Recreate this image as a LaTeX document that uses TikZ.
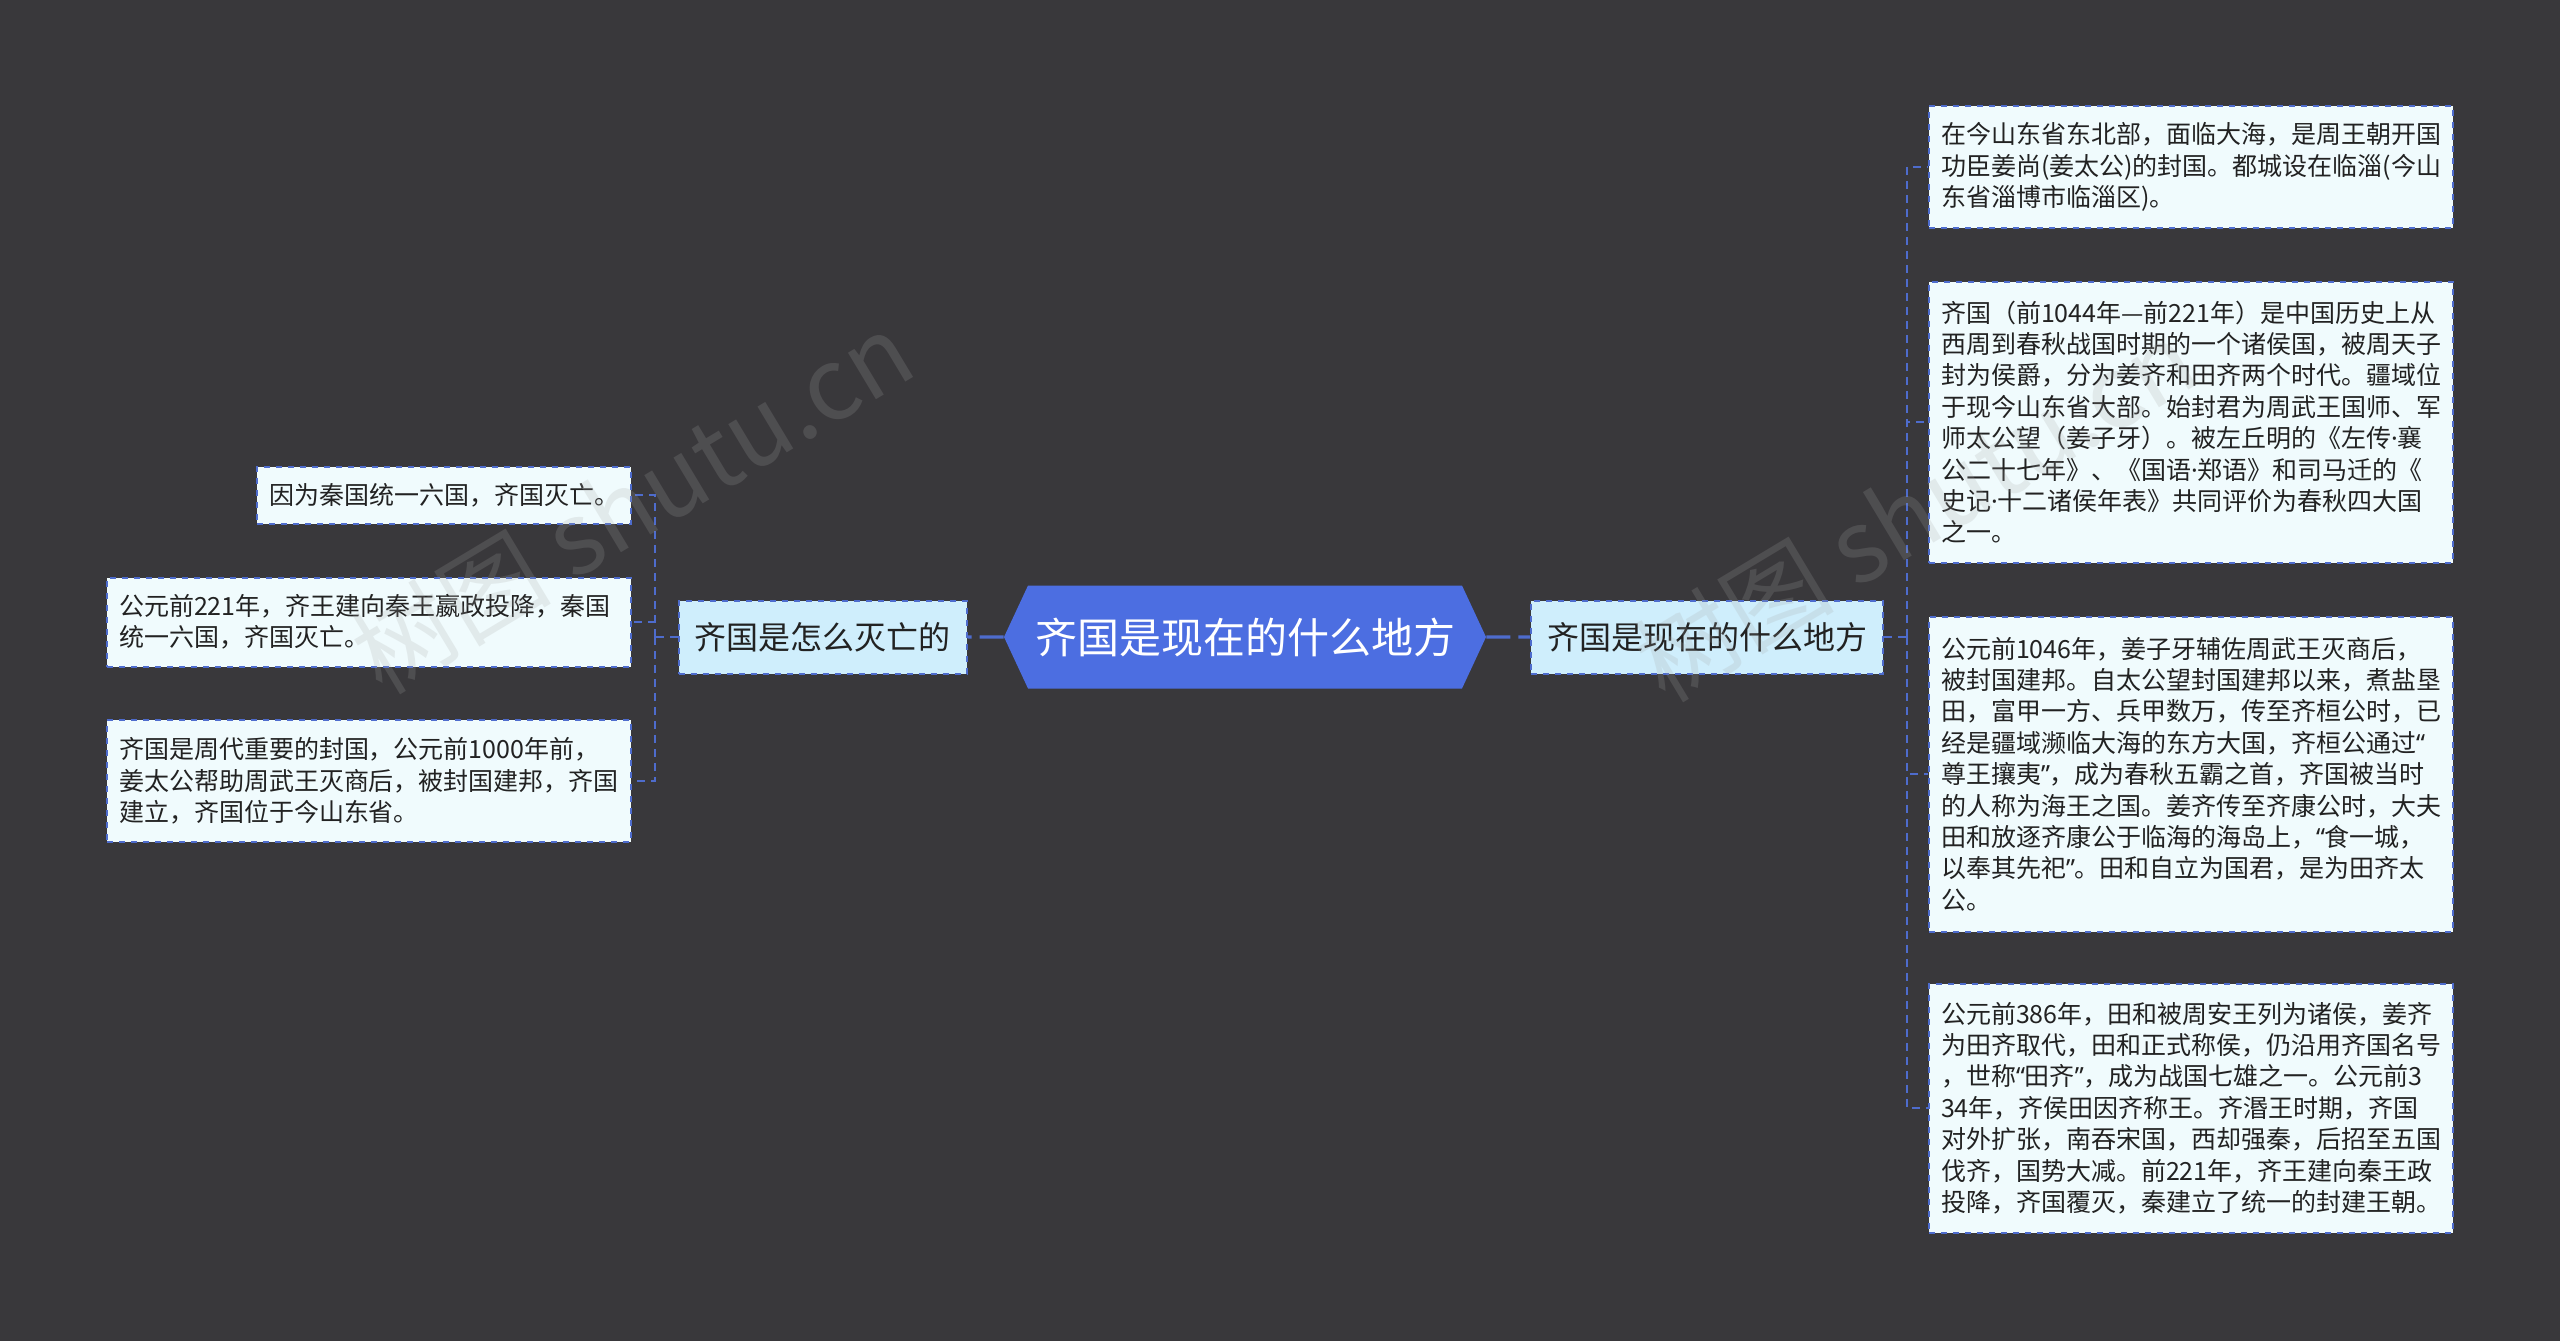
\documentclass[tikz,border=0pt]{standalone}
\usepackage{fontspec}
\setmainfont{Noto Sans CJK SC}
\newfontfamily\narrowpunct{Noto Sans}
\newcommand\oq{{\narrowpunct “}}
\newcommand\cq{{\narrowpunct ”}}
\newcommand\mdot{{\narrowpunct ·}}
\usepackage{tikz}
\usetikzlibrary{positioning,shapes.symbols}
\definecolor{bgdark}{RGB}{57,56,59}
\definecolor{rootblue}{RGB}{76,110,225}
\definecolor{linkblue}{RGB}{78,108,205}
\definecolor{softcyan}{RGB}{207,238,252}
\definecolor{paleleaf}{RGB}{240,251,253}
\definecolor{inkdark}{RGB}{34,34,34}
\tikzset{root/.style={signal, signal to=east and west, signal pointer angle=130, fill=rootblue, text=white, minimum width=241pt, minimum height=51.5pt, inner sep=0pt, font=\fontsize{21pt}{25pt}\selectfont}, topic/.style={draw=linkblue, dashed, line width=1pt, fill=softcyan, text=inkdark, inner xsep=8pt, minimum height=36.5pt, font=\fontsize{16pt}{19pt}\selectfont}, leaf/.style={draw=linkblue, dashed, line width=1pt, fill=paleleaf, text=inkdark, align=left, text width=#1, inner xsep=6pt, font=\fontsize{12.5pt}{15.7pt}\selectfont}, leaf/.default=250pt, link/.style={draw=linkblue, line width=1pt, dash pattern=on 4pt off 3pt}, rootlink/.style={draw=linkblue, line width=1.6pt, dash pattern=on 12pt off 4pt}, wmark/.style={text=gray!70, opacity=0.2, font=\fontsize{50pt}{55pt}\selectfont}}
\begin{document}
\begin{tikzpicture}[x=0.5pt,y=-0.5pt]
\fill[bgdark] (0,0) rectangle (2560,1341);
\useasboundingbox (0,0) rectangle (2560,1341);
\node[root] (root) at (1245,637) {齐国是现在的什么地方};
\node[topic,left=18pt of root] (lmid) {齐国是怎么灭亡的};
\node[topic,right=22pt of root] (rmid) {齐国是现在的什么地方};
% right side leaves
\node[leaf,anchor=west,minimum height=61pt] (r1) at (1928,167) {在今山东省东北部，面临大海，是周王朝开国\\功臣姜尚(姜太公)的封国。都城设在临淄(今山\\东省淄博市临淄区)。};
\node[leaf,anchor=west,minimum height=140.5pt] (r2) at (1928,422) {齐国（前1044年—前221年）是中国历史上从\\西周到春秋战国时期的一个诸侯国，被周天子\\封为侯爵，分为姜齐和田齐两个时代。疆域位\\于现今山东省大部。始封君为周武王国师、军\\师太公望（姜子牙）。被左丘明的《左传\mdot 襄\\公二十七年》、《国语\mdot 郑语》和司马迁的《\\史记\mdot 十二诸侯年表》共同评价为春秋四大国\\之一。};
\node[leaf,anchor=west,minimum height=157.5pt] (r3) at (1928,774) {公元前1046年，姜子牙辅佐周武王灭商后，\\被封国建邦。自太公望封国建邦以来，煮盐垦\\田，富甲一方、兵甲数万，传至齐桓公时，已\\经是疆域濒临大海的东方大国，齐桓公通过\oq\\尊王攘夷\cq，成为春秋五霸之首，齐国被当时\\的人称为海王之国。姜齐传至齐康公时，大夫\\田和放逐齐康公于临海的海岛上，\oq 食一城，\\以奉其先祀\cq。田和自立为国君，是为田齐太\\公。};
\node[leaf,anchor=west,minimum height=124.5pt] (r4) at (1928,1108) {公元前386年，田和被周安王列为诸侯，姜齐\\为田齐取代，田和正式称侯，仍沿用齐国名号\\，世称\oq 田齐\cq，成为战国七雄之一。公元前3\\34年，齐侯田因齐称王。齐湣王时期，齐国\\对外扩张，南吞宋国，西却强秦，后招至五国\\伐齐，国势大减。前221年，齐王建向秦王政\\投降，齐国覆灭，秦建立了统一的封建王朝。};
% left side leaves
\node[leaf=175pt,anchor=east,minimum height=28.5pt] (l1) at (632,495) {因为秦国统一六国，齐国灭亡。};
\node[leaf,anchor=east,minimum height=44.5pt] (l2) at (632,622) {公元前221年，齐王建向秦王嬴政投降，秦国\\统一六国，齐国灭亡。};
\node[leaf,anchor=east,minimum height=61pt] (l3) at (632,781) {齐国是周代重要的封国，公元前1000年前，\\姜太公帮助周武王灭商后，被封国建邦，齐国\\建立，齐国位于今山东省。};
\draw[rootlink] (root) -- (lmid); \draw[rootlink] (root) -- (rmid);
\draw[link] (rmid.east) -- ++(11.5pt,0) coordinate (rspine);
\foreach \n in {r1,r2,r3,r4} \draw[link] (rspine) |- (\n.west);
\draw[link] (lmid.west) -- ++(-11.5pt,0) coordinate (lspine);
\foreach \n in {l1,l2,l3} \draw[link] (lspine) |- (\n.east);
% watermarks
\node[wmark,rotate=31] (wm1) at (632,502) {树图 shutu.cn};
\node[wmark,rotate=31] (wm2) at (1915,510) {树图 shutu.cn};
\end{tikzpicture}
\end{document}
